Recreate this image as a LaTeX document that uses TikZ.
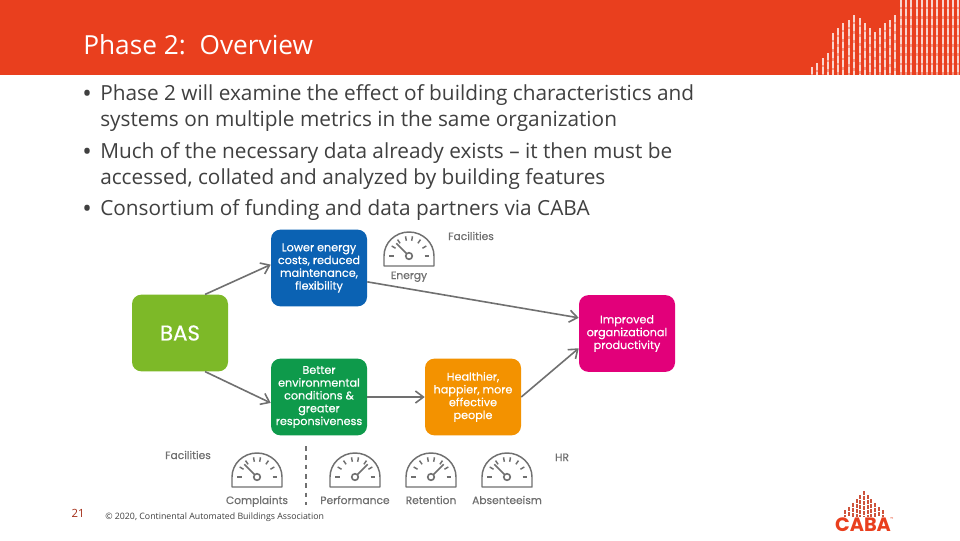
\documentclass[tikz,border=0pt]{standalone}
\usepackage{fontspec}
\setmainfont{Open Sans}
\newfontfamily\diag[FakeBold=0.5]{Poppins}
\newfontfamily\logofont{Poppins}
\usetikzlibrary{arrows.meta}
\definecolor{hdr}{HTML}{E93F1E}
\definecolor{txt}{HTML}{404040}
\definecolor{cblue}{HTML}{0B62B3}
\definecolor{cgreen}{HTML}{0E9A4B}
\definecolor{clime}{HTML}{7DB928}
\definecolor{corange}{HTML}{F39200}
\definecolor{cpink}{HTML}{E2007A}
\definecolor{lgrey}{HTML}{707070}
\tikzset{
  x=.75pt,y=-.75pt,
  bodyline/.style={anchor=base west,inner sep=0pt,text=txt,font=\fontsize{15.6pt}{18pt}\selectfont},
  bulletmark/.style={anchor=base west,inner sep=0pt,text=txt,font=\fontsize{19pt}{18pt}\selectfont},
  flowbox/.style={minimum width=72pt,minimum height=57.5pt,rounded corners=7pt,text=white,align=center,inner sep=0pt,font=\diag\fontsize{8.4pt}{9.6pt}\selectfont},
  flow/.style={draw=lgrey,line width=1.2pt,-{Straight Barb[length=6pt,width=9pt,line width=1.2pt]}},
  cap label/.style={anchor=base,inner sep=0pt,text=lgrey,font=\diag\fontsize{8pt}{9pt}\selectfont},
  pics/gauge/.style={code={
    \draw[lgrey,line width=1.1pt,line join=round] (-25,10) -- (-25,0) arc[start angle=180,end angle=0,x radius=25,y radius=-24] -- (25,10) -- cycle;
    \foreach \a in {-180,-150,-125,-100,-80,-55,-30,0}
      \draw[lgrey,line width=1.1pt] (\a:15.5) -- (\a:20);
    \draw[lgrey,line width=1.2pt] (0,0) circle[radius=3.3];
    \draw[lgrey,line width=1.2pt] (#1:3.3) -- (#1:18);
  }}
}
\begin{document}
\begin{tikzpicture}
\useasboundingbox (0,0) rectangle (960,540);
\fill[white] (0,0) rectangle (960,540);
\fill[hdr] (0,0) rectangle (960,75);
% header skyline
\foreach \bx/\by in {812/67,817/63,823/58,828/53,833/33,838/28,843/23,849/20,854/15,860/18,865/23,870/28,875/32,880/28,885/23,890/20,895/15,901/0,906/0,911/0,917/0,922/0,927/0,932/0,937/0,943/0,948/0,953/0,958/0}{
  \draw[white,opacity=.45,line width=1.8pt] (\bx,\by) -- (\bx,75);
  \draw[white,opacity=.6,line width=1.8pt,dash pattern=on 5pt off 2pt] (\bx,\by) -- (\bx,75);
}
\node[anchor=base west,inner sep=0pt,text=white,font=\fontsize{19.7pt}{22pt}\selectfont] (title) at (83,54) {Phase 2:\ \ Overview};
% body
\node[bulletmark] (b1) at (82,102) {•};
\node[bodyline] (l1) at (100,100) {Phase 2 will examine the effect of building characteristics and};
\node[bodyline] (l2) at (100,126) {systems on multiple metrics in the same organization};
\node[bulletmark] (b2) at (82,160) {•};
\node[bodyline] (l3) at (100,158) {Much of the necessary data already exists – it then must be};
\node[bodyline] (l4) at (100,184) {accessed, collated and analyzed by building features};
\node[bulletmark] (b3) at (82,217) {•};
\node[bodyline] (l5) at (100,215) {Consortium of funding and data partners via CABA};
% boxes
\node[flowbox,fill=clime,font=\diag\fontsize{16pt}{18pt}\selectfont] (bas) at (180,333) {BAS};
\node[flowbox,fill=cblue] (lower) at (319,268) {Lower energy\\costs, reduced\\maintenance,\\flexibility};
\node[flowbox,fill=cgreen] (better) at (319,397) {Better\\environmental\\conditions \&\\greater\\responsiveness};
\node[flowbox,fill=corange] (happy) at (473,397) {Healthier,\\happier, more\\effective\\people};
\node[flowbox,fill=cpink] (prod) at (627,333.5) {Improved\\organizational\\productivity};
% connectors
\draw[flow] (bas.57) -- (lower.176.4);
\draw[flow] (bas.-57) -- (better.187);
\draw[flow] (lower.-16.3) -- (prod.162.1);
\draw[flow] (better.east) -- (happy.west);
\draw[flow] (happy.east) -- (prod.197.9);
% gauges
\pic at (409,256) {gauge=-135};
\pic at (257,477) {gauge=-135};
\pic at (355,477) {gauge=-45};
\pic at (431,477) {gauge=-45};
\pic at (507,477) {gauge=-135};
\draw[lgrey,line width=1.1pt,dash pattern=on 3.5pt off 3.5pt] (306,446) -- (306,505);
% labels
\node[cap label] (fac1) at (471,240) {Facilities};
\node[cap label] (en) at (409,279) {Energy};
\node[cap label] (fac2) at (188,459) {Facilities};
\node[cap label] (hr) at (562,461) {HR};
\node[cap label] (comp) at (257,504) {Complaints};
\node[cap label] (perf) at (355,504) {Performance};
\node[cap label] (ret) at (431,504) {Retention};
\node[cap label] (abs) at (507,504) {Absenteeism};
% footer
\node[anchor=base,inner sep=0pt,text=hdr!70!black,font=\fontsize{8.5pt}{10pt}\selectfont] (pg) at (78,517) {21};
\node[anchor=base west,inner sep=0pt,text=txt,font=\fontsize{6.6pt}{8pt}\selectfont] (copy) at (105,519) {© 2020, Continental Automated Buildings Association};
% logo
\foreach \bx/\by in {845/510,849/507,853/503,857/499,860/495,864/491,868/495,871/499,875/503,879/507,883/510}{
  \draw[hdr!85!black,opacity=.85,line width=1.3pt,dash pattern=on 3pt off .8pt] (\bx,\by) -- (\bx,517);
}
\node[inner sep=0pt,text=hdr,font=\logofont\bfseries\fontsize{14.5pt}{16pt}\selectfont] (caba) at (863,525) {CABA};
\node[inner sep=0pt,text=hdr,font=\fontsize{3pt}{3pt}\selectfont] (tm) at (892,519) {™};
\end{tikzpicture}
\end{document}
